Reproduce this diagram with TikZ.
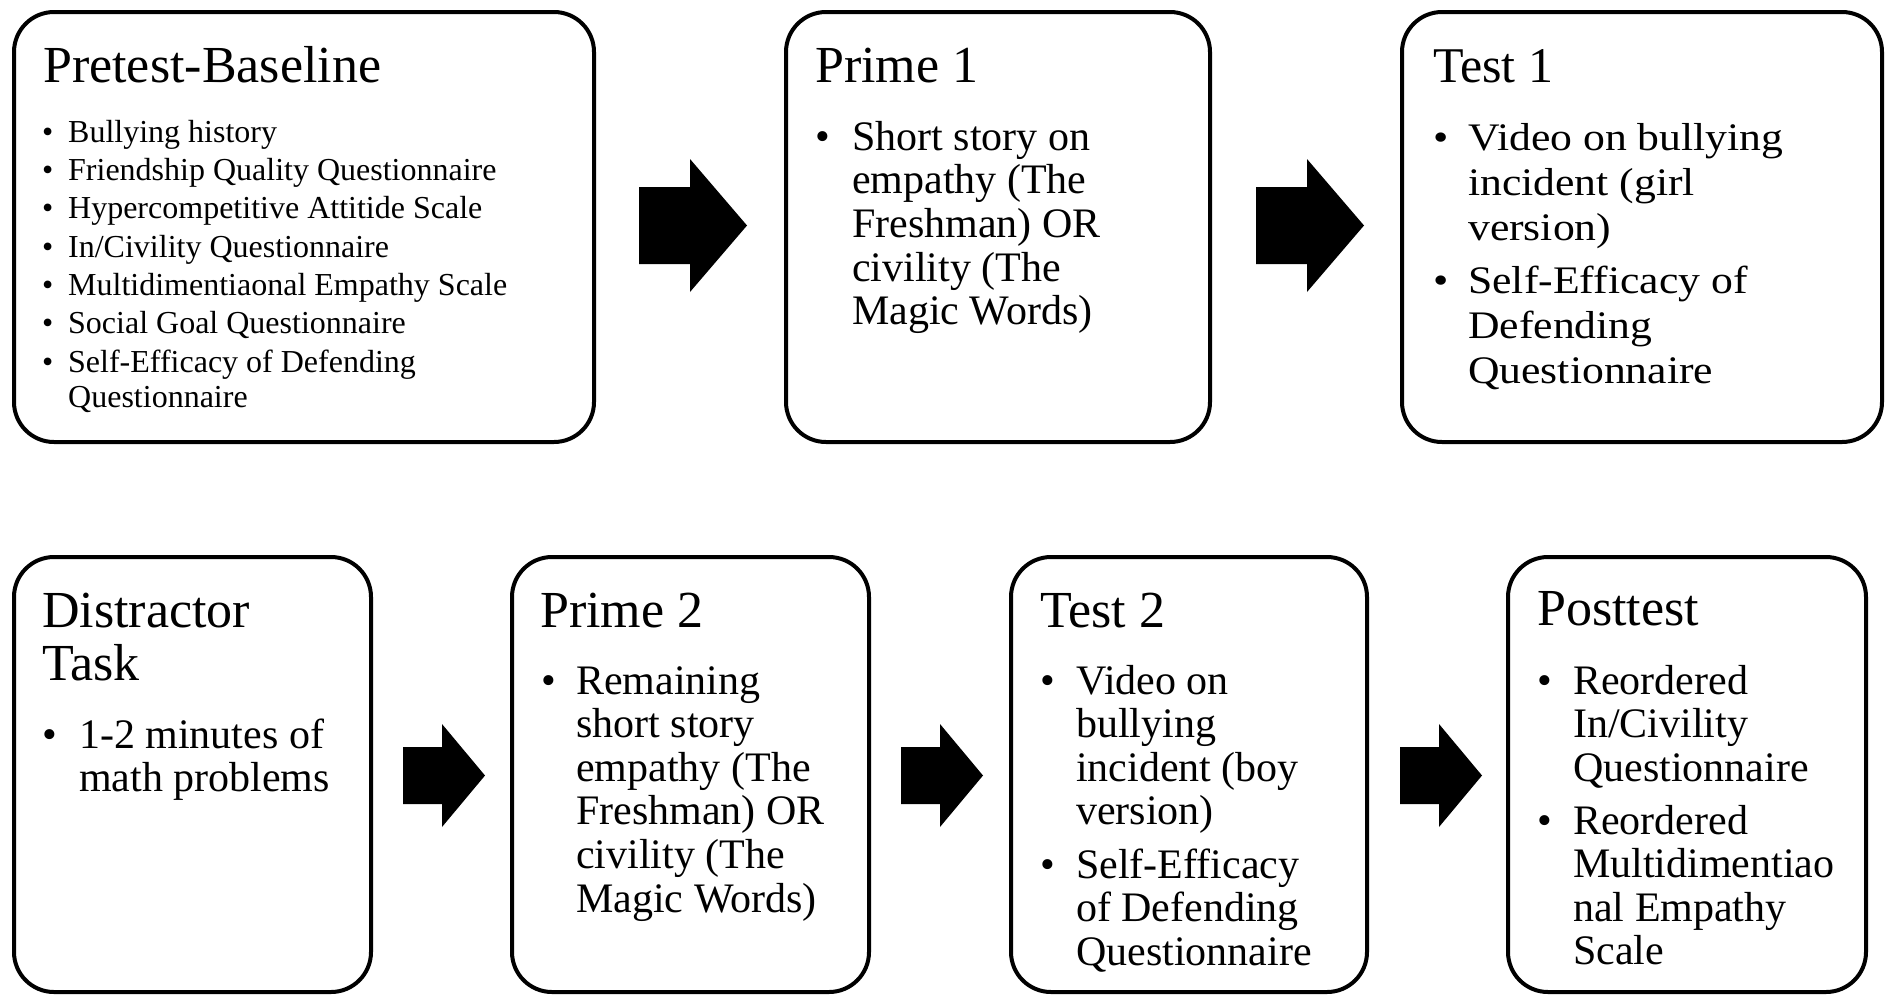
\documentclass[tikz,border=0pt]{standalone}
\usepackage{fontspec}
\setmainfont{Liberation Serif}
\newfontfamily\cambfont[FakeStretch=1.12]{Liberation Serif}
\newcommand{\bitem}[2]{\makebox[#1][l]{\textbullet}\begin{tabular}[t]{@{}l@{}}#2\end{tabular}}

\begin{document}
\begin{tikzpicture}[x=1pt,y=-1pt,
		stagebox/.style={line width=4pt,rounded corners=40pt},
		headline/.style={anchor=base west,inner sep=0pt,font=\fontsize{52}{53}\selectfont},
		prebody/.style={anchor=base west,inner sep=0pt,font=\fontsize{32}{35}\selectfont},
		primebody/.style={anchor=base west,inner sep=0pt,font=\fontsize{42}{43.7}\selectfont},
		testbody/.style={anchor=base west,inner sep=0pt,font=\cambfont\fontsize{39}{45}\selectfont},
		lowbody/.style={anchor=base west,inner sep=0pt,font=\fontsize{42}{43.6}\selectfont}]
			\useasboundingbox (0,0) rectangle (1885,994);
			% top row
			\draw[stagebox] (14,12) rectangle (594,442);
			\draw[stagebox] (786,12) rectangle (1210,442);
			\draw[stagebox] (1402,12) rectangle (1882,442);
			\node[headline] (pretest) at (43,82) {Pretest-Baseline};
			\node[prebody] (pre1) at (42,142) {\bitem{26pt}{Bullying history}};
			\node[prebody] (pre2) at (42,180) {\bitem{26pt}{Friendship Quality Questionnaire}};
			\node[prebody] (pre3) at (42,218) {\bitem{26pt}{Hypercompetitive Attitide Scale}};
			\node[prebody] (pre4) at (42,257) {\bitem{26pt}{In/Civility Questionnaire}};
			\node[prebody] (pre5) at (42,295) {\bitem{26pt}{Multidimentiaonal Empathy Scale}};
			\node[prebody] (pre6) at (42,333) {\bitem{26pt}{Social Goal Questionnaire}};
			\node[prebody] (pre7) at (42,372) {\bitem{26pt}{Self-Efficacy of Defending\\Questionnaire}};
			\node[headline] (primeA) at (815,82) {Prime 1};
			\node[primebody] (primeA1) at (815,150) {\bitem{37pt}{Short story on\\empathy (The\\Freshman) OR\\civility (The\\Magic Words)}};
			\node[headline,font=\fontsize{50}{52}\selectfont] (testA) at (1433,82) {Test 1};
			\node[testbody] (testA1) at (1433,150) {\bitem{35pt}{Video on bullying\\incident (girl\\version)}};
			\node[testbody] (testA2) at (1433,293) {\bitem{35pt}{Self-Efficacy of\\Defending\\Questionnaire}};
			\fill (639,187) -- (690,187) -- (690,159) -- (747,225.5) -- (690,292) -- (690,264) -- (639,264) -- cycle;
			\begin{scope}[shift={(617,0)}]
				\fill (639,187) -- (690,187) -- (690,159) -- (747,225.5) -- (690,292) -- (690,264) -- (639,264) -- cycle;
			\end{scope}
			% bottom row
			\draw[stagebox] (14,557) rectangle (371,992);
			\draw[stagebox] (512,557) rectangle (869,992);
			\draw[stagebox] (1011,557) rectangle (1367,992);
			\draw[stagebox] (1508,557) rectangle (1866,992);
			\node[headline] (distract) at (42,627) {\begin{tabular}[t]{@{}l@{}}Distractor\\Task\end{tabular}};
			\node[lowbody] (distract1) at (42,748) {\bitem{37pt}{1-2 minutes of\\math problems}};
			\node[headline] (primeB) at (540,627) {Prime 2};
			\node[lowbody] (primeB1) at (541,694) {\bitem{35pt}{Remaining\\short story\\empathy (The\\Freshman) OR\\civility (The\\Magic Words)}};
			\node[headline] (testB) at (1040,627) {Test 2};
			\node[lowbody] (testB1) at (1040,694) {\bitem{36pt}{Video on\\bullying\\incident (boy\\version)}};
			\node[lowbody] (testB2) at (1040,878) {\bitem{36pt}{Self-Efficacy\\of Defending\\Questionnaire}};
			\node[headline] (posttest) at (1537,625) {Posttest};
			\node[lowbody] (posttest1) at (1537,694) {\bitem{36pt}{Reordered\\In/Civility\\Questionnaire}};
			\node[lowbody] (posttest2) at (1537,834) {\bitem{36pt}{Reordered\\Multidimentiao\\nal Empathy\\Scale}};
			\fill (403,747) -- (442,747) -- (442,724) -- (485,775.5) -- (442,827) -- (442,804) -- (403,804) -- cycle;
			\begin{scope}[shift={(498,0)}]
				\fill (403,747) -- (442,747) -- (442,724) -- (485,775.5) -- (442,827) -- (442,804) -- (403,804) -- cycle;
			\end{scope}
			\begin{scope}[shift={(997,0)}]
				\fill (403,747) -- (442,747) -- (442,724) -- (485,775.5) -- (442,827) -- (442,804) -- (403,804) -- cycle;
			\end{scope}
\end{tikzpicture}
\end{document}
